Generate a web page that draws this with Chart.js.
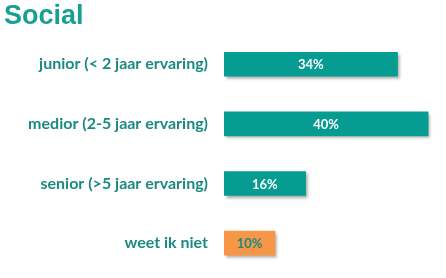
<!DOCTYPE html>
<html>
<head>
<meta charset="utf-8">
<script src="https://cdn.jsdelivr.net/npm/chart.js@4/dist/chart.umd.min.js"></script>
<style>
  html, body { margin: 0; padding: 0; background: #fff; }
  #wrap { width: 446px; height: 278px; position: relative; }
</style>
</head>
<body>
<div id="wrap"><canvas id="ch-social"></canvas></div>
<script>
const categories = ['junior (< 2 jaar ervaring)', 'medior (2-5 jaar ervaring)', 'senior (>5 jaar ervaring)', 'weet ik niet'];
const percentages = [34, 40, 16, 10];
const barColors = ['#069c91', '#069c91', '#069c91', '#f79646'];
const labelColors = ['#ffffff', '#ffffff', '#ffffff', '#1a8a80'];

// ── value labels inside the bars, soft shadow under the bars ──
const valueLabels = {
  id: 'valueLabels',
  beforeDatasetDraw(chart) {
    const ctx = chart.ctx;
    ctx.save();
    ctx.shadowColor = 'rgba(0,0,0,0.35)';
    ctx.shadowOffsetX = 2;
    ctx.shadowOffsetY = 2;
    ctx.shadowBlur = 3;
  },
  afterDatasetDraw(chart) {
    chart.ctx.restore();
  },
  afterDatasetsDraw(chart) {
    const ctx = chart.ctx;
    const meta = chart.getDatasetMeta(0);
    ctx.save();
    ctx.font = "bold 13px Lato";
    ctx.textAlign = 'center';
    ctx.textBaseline = 'middle';
    meta.data.forEach((bar, i) => {
      ctx.fillStyle = labelColors[i];
      ctx.fillText(percentages[i] + '%', (bar.x + bar.base) / 2, bar.y + 1);
    });
    ctx.restore();
  }
};

new Chart(document.getElementById('ch-social'), {
  type: 'bar',
  data: {
    labels: categories,
    datasets: [{ data: percentages, backgroundColor: barColors, barThickness: 24 }]
  },
  options: {
    indexAxis: 'y',
    responsive: true,
    maintainAspectRatio: false,
    animation: false,
    layout: { padding: { left: 4, right: 0, top: 0, bottom: 5 } },
    plugins: {
      legend: { display: false },
      tooltip: { enabled: false },
      title: {
        display: true,
        text: 'Social',
        align: 'start',
        color: '#16a094',
        font: { family: "'Liberation Sans', Arial", size: 27, weight: 'bold' },
        padding: { top: 0, bottom: 2 }
      }
    },
    scales: {
      x: { display: false, min: 0, max: 43.5 },
      y: {
        grid: { display: false },
        border: { display: false },
        ticks: { color: '#1b8a80', padding: 8, font: { family: 'Lato', size: 16, weight: 'bold' } },
        afterFit: s => { s.width = 220; s.paddingTop = 0; s.paddingBottom = 0; }
      }
    }
  },
  plugins: [valueLabels]
});
</script>
</body>
</html>
